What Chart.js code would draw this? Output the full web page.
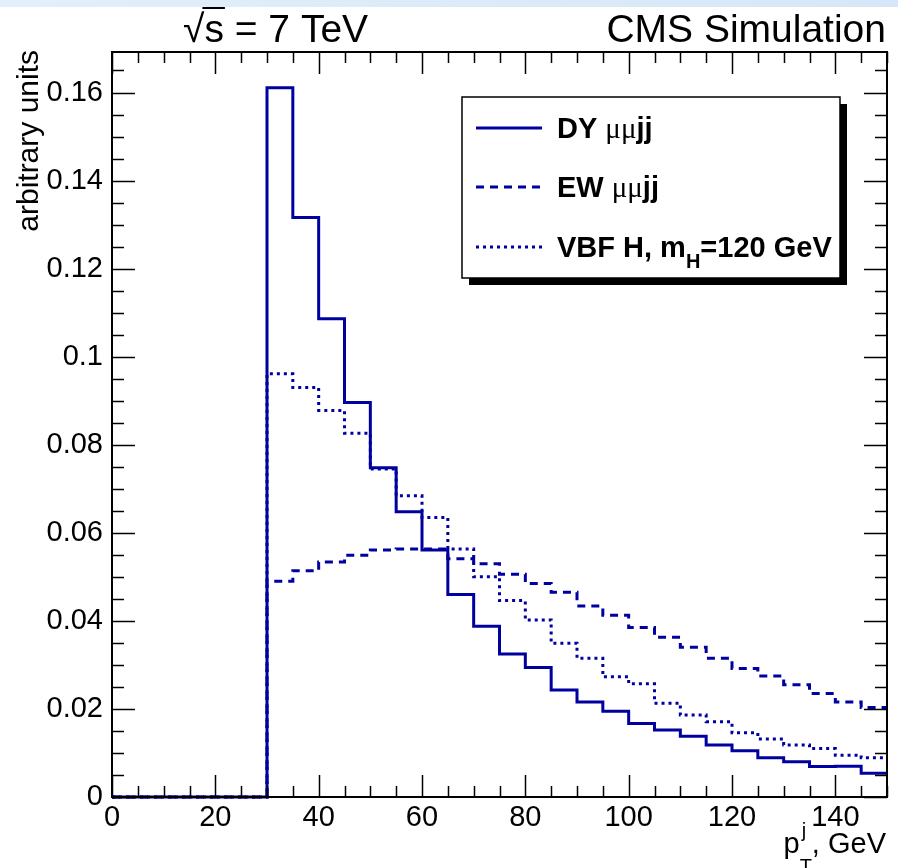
<!DOCTYPE html>
<html>
<head>
<meta charset="utf-8">
<script src="https://cdn.jsdelivr.net/npm/chart.js@4.4.1/dist/chart.umd.min.js"></script>
<style>
  html, body { margin: 0; padding: 0; background: #ffffff; }
  canvas { display: block; }
</style>
</head>
<body>
<canvas id="chart" width="898" height="868"></canvas>
<script>
// Jet pT distributions (5 GeV bins, 0-150 GeV), arbitrary units

const binEdges = [0, 5, 10, 15, 20, 25, 30, 35, 40, 45, 50, 55, 60, 65, 70, 75,
                  80, 85, 90, 95, 100, 105, 110, 115, 120, 125, 130, 135, 140, 145, 150];

const dyValues = [0, 0, 0, 0, 0, 0,
    0.1611, 0.1316, 0.1086, 0.0896, 0.0748, 0.0648, 0.0561, 0.0460, 0.0388, 0.0325,
    0.0294, 0.0243, 0.0216, 0.0195, 0.0167, 0.0152, 0.0138, 0.0118, 0.0105, 0.0089,
    0.0080, 0.0069, 0.0070, 0.0054];

const ewValues = [0, 0, 0, 0, 0, 0,
    0.0490, 0.0514, 0.0534, 0.0549, 0.0561, 0.0563, 0.0563, 0.0541, 0.0530, 0.0506,
    0.0485, 0.0465, 0.0434, 0.0413, 0.0385, 0.0363, 0.0340, 0.0315, 0.0292, 0.0275,
    0.0255, 0.0235, 0.0216, 0.0203];

const vbfValues = [0, 0, 0, 0, 0, 0,
    0.0961, 0.0930, 0.0878, 0.0826, 0.0745, 0.0684, 0.0635, 0.0563, 0.0500, 0.0446,
    0.0402, 0.0349, 0.0315, 0.0273, 0.0257, 0.0213, 0.0186, 0.0171, 0.0146, 0.0132,
    0.0118, 0.0110, 0.0095, 0.0089];

const xTickValues = [0, 20, 40, 60, 80, 100, 120, 140];
const yTickValues = [0, 0.02, 0.04, 0.06, 0.08, 0.1, 0.12, 0.14, 0.16];
const yTickLabels = ['0', '0.02', '0.04', '0.06', '0.08', '0.1', '0.12', '0.14', '0.16'];

const xMax = 150;
const yMax = 0.1692;

const lineColor = '#0000a0';
const sansFont = '"Liberation Sans", Arial, Helvetica, sans-serif';
const serifFont = '"Liberation Serif", "Times New Roman", serif';

// histogram outline: one point per bin edge, the last bin repeated at the right edge
function histPoints(values) {
    return binEdges.map((e, i) => ({ x: e, y: values[Math.min(i, values.length - 1)] }));
}

// draws a list of text pieces one after another
function drawRich(ctx, parts, x, y) {
    parts.forEach(p => {
        ctx.font = p.font;
        ctx.fillText(p.t, x, y + (p.dy || 0));
        x += ctx.measureText(p.t).width;
    });
    return x;
}

const rootFrame = {
    id: 'rootFrame',
    beforeDraw(chart) {
        const ctx = chart.ctx;
        // light blue band of the slide at the top
        const g = ctx.createLinearGradient(0, 0, chart.width, 0);
        g.addColorStop(0, '#e3effa');
        g.addColorStop(1, '#d5e7f8');
        ctx.save();
        ctx.fillStyle = g;
        ctx.fillRect(0, 0, chart.width, 7);
        ctx.restore();
    },
    afterDatasetsDraw(chart) {
        const ctx = chart.ctx;
        const xs = chart.scales.x, ys = chart.scales.y;
        const a = chart.chartArea;
        ctx.save();
        ctx.strokeStyle = '#000';
        ctx.lineWidth = 2;
        ctx.setLineDash([]);
        ctx.strokeRect(a.left, a.top, a.right - a.left, a.bottom - a.top);

        ctx.lineWidth = 1.5;
        ctx.beginPath();
        // x ticks, bottom and top
        for (let v = 0; v <= xMax; v += 5) {
            const px = Math.round(xs.getPixelForValue(v)) + 0.5;
            const len = v % 20 === 0 ? 22 : 11;
            ctx.moveTo(px, a.bottom); ctx.lineTo(px, a.bottom - len);
            ctx.moveTo(px, a.top); ctx.lineTo(px, a.top + len);
        }
        // y ticks, left and right
        for (let k = 0; k * 0.005 <= yMax; k++) {
            const py = Math.round(ys.getPixelForValue(k * 0.005)) + 0.5;
            const len = k % 4 === 0 ? 23 : 12;
            ctx.moveTo(a.left, py); ctx.lineTo(a.left + len, py);
            ctx.moveTo(a.right, py); ctx.lineTo(a.right - len, py);
        }
        ctx.stroke();

        // legend box with shadow
        const bx = 462, by = 97, bw = 378, bh = 181;
        ctx.fillStyle = '#000';
        ctx.fillRect(bx + 7, by + 7, bw, bh);
        ctx.fillStyle = '#fff';
        ctx.fillRect(bx, by, bw, bh);
        ctx.lineWidth = 1.5;
        ctx.strokeRect(bx, by, bw, bh);

        const rows = [128, 187, 247];
        const bold = 'bold 29px ' + sansFont;
        const labels = [
            [{ t: 'DY ', font: bold }, { t: 'μμ', font: '29px ' + serifFont }, { t: 'jj', font: bold }],
            [{ t: 'EW ', font: bold }, { t: 'μμ', font: '29px ' + serifFont }, { t: 'jj', font: bold }],
            [{ t: 'VBF H, m', font: bold }, { t: 'H', font: 'bold 20px ' + sansFont, dy: 11 },
             { t: '=120 GeV', font: bold }]
        ];
        chart.data.datasets.forEach((ds, i) => {
            ctx.strokeStyle = ds.borderColor;
            ctx.lineWidth = 3;
            ctx.setLineDash(ds.borderDash || []);
            ctx.beginPath();
            ctx.moveTo(476, rows[i]);
            ctx.lineTo(542, rows[i]);
            ctx.stroke();
            ctx.setLineDash([]);
            ctx.fillStyle = '#000';
            ctx.textBaseline = 'alphabetic';
            ctx.textAlign = 'left';
            drawRich(ctx, labels[i], 557, rows[i] + 10);
        });
        ctx.restore();
    },
    afterDraw(chart) {
        const ctx = chart.ctx;
        ctx.save();
        ctx.fillStyle = '#000';
        ctx.textBaseline = 'alphabetic';

        // sqrt(s) = 7 TeV
        ctx.font = '39px ' + sansFont;
        ctx.textAlign = 'left';
        const rootW = ctx.measureText('√').width;
        ctx.fillText('√', 183, 42);
        const sW = ctx.measureText('s').width;
        ctx.fillText('s = 7 TeV', 183 + rootW, 42);
        ctx.strokeStyle = '#000';
        ctx.lineWidth = 2;
        ctx.beginPath();
        ctx.moveTo(183 + rootW - 2, 8);
        ctx.lineTo(183 + rootW + sW + 1, 8);
        ctx.stroke();

        // CMS Simulation
        ctx.textAlign = 'right';
        ctx.fillText('CMS Simulation', 886, 42);

        // x axis title: pT^j, GeV
        const main = '29px ' + sansFont, small = '20px ' + sansFont;
        ctx.textAlign = 'left';
        ctx.font = main;
        const tailW = ctx.measureText(', GeV').width;
        const pW = ctx.measureText('p').width;
        ctx.font = small;
        const subW = ctx.measureText('T').width;
        const xEnd = 886;
        const x0 = xEnd - tailW - subW - pW;
        ctx.font = main;
        ctx.fillText('p', x0, 853);
        ctx.font = small;
        ctx.fillText('j', x0 + pW + 2, 837);
        ctx.fillText('T', x0 + pW, 873);
        ctx.font = main;
        ctx.fillText(', GeV', x0 + pW + subW, 853);

        // y axis title
        ctx.translate(38, 50);
        ctx.rotate(-Math.PI / 2);
        ctx.textAlign = 'right';
        ctx.font = '30px ' + sansFont;
        ctx.fillText('arbitrary units', 0, 0);
        ctx.restore();
    }
};

const ctx = document.getElementById('chart').getContext('2d');
new Chart(ctx, {
    type: 'line',
    data: {
        datasets: [{
            label: 'DY μμjj',
            data: histPoints(dyValues),
            borderColor: lineColor,
            borderWidth: 3,
            stepped: 'before',
            pointRadius: 0,
            fill: false,
            clip: 6
        }, {
            label: 'EW μμjj',
            data: histPoints(ewValues),
            borderColor: lineColor,
            borderWidth: 3,
            borderDash: [8, 6],
            stepped: 'before',
            pointRadius: 0,
            fill: false,
            clip: 6
        }, {
            label: 'VBF H, mH=120 GeV',
            data: histPoints(vbfValues),
            borderColor: lineColor,
            borderWidth: 3,
            borderDash: [3, 4],
            stepped: 'before',
            pointRadius: 0,
            fill: false,
            clip: 6
        }]
    },
    options: {
        responsive: false,
        animation: false,
        devicePixelRatio: 1,
        layout: { padding: { top: 52, right: 11, left: 0, bottom: 0 } },
        plugins: {
            legend: { display: false },
            tooltip: { enabled: false }
        },
        scales: {
            x: {
                type: 'linear',
                min: 0,
                max: xMax,
                grid: { display: false },
                border: { display: false },
                afterBuildTicks: scale => { scale.ticks = xTickValues.map(v => ({ value: v })); },
                afterFit: scale => { scale.height = 71; },
                ticks: {
                    color: '#000',
                    font: { family: sansFont, size: 29 },
                    padding: -4,
                    maxRotation: 0,
                    autoSkip: false
                }
            },
            y: {
                type: 'linear',
                min: 0,
                max: yMax,
                grid: { display: false },
                border: { display: false },
                afterBuildTicks: scale => { scale.ticks = yTickValues.map(v => ({ value: v })); },
                afterFit: scale => { scale.width = 112; },
                ticks: {
                    color: '#000',
                    font: { family: sansFont, size: 29 },
                    padding: 1,
                    autoSkip: false,
                    callback: (value, index) => yTickLabels[index]
                }
            }
        }
    },
    plugins: [rootFrame]
});
</script>
</body>
</html>
